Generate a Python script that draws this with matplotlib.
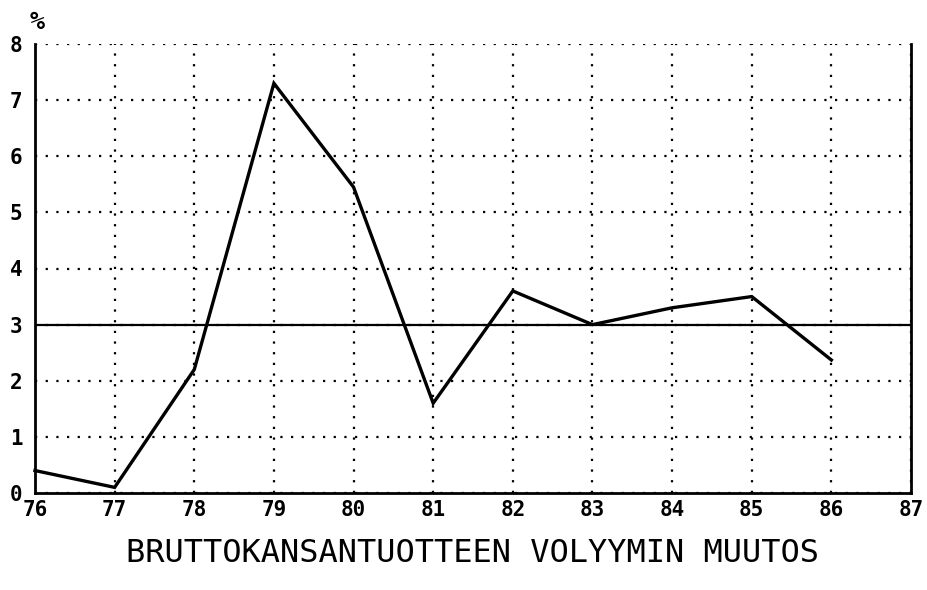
import matplotlib
matplotlib.use("Agg")
import matplotlib.pyplot as plt

years = [76, 77, 78, 79, 80, 81, 82, 83, 84, 85, 86]
growth = [0.4, 0.1, 2.2, 7.3, 5.45, 1.6, 3.6, 3.0, 3.3, 3.5, 2.37]
reference_level = 3.0
x_ticks = list(range(76, 88))
y_ticks = list(range(0, 9))

fig = plt.figure(figsize=(9.28, 5.9), dpi=100)
ax = fig.add_axes([35/928, 1-493/590, (911-35)/928, (493-44)/590])

font = "DejaVu Sans Mono"

ax.set_xlim(76, 87)
ax.set_ylim(0, 8)
ax.set_xticks(x_ticks)
ax.set_yticks(y_ticks)
ax.set_xticklabels([str(v) for v in x_ticks], fontfamily=font, fontweight="bold", fontsize=15)
ax.set_yticklabels([str(v) for v in y_ticks], fontfamily=font, fontweight="bold", fontsize=15)
ax.tick_params(axis="both", length=0)
ax.tick_params(axis="x", pad=5)
ax.tick_params(axis="y", pad=9)

ax.grid(True, color="black", linewidth=1.6, linestyle=(0, (1, 3.8)))
ax.set_axisbelow(True)

for s in ["left", "bottom", "right"]:
    ax.spines[s].set_linewidth(2.0)
ax.spines["top"].set_visible(False)

ax.axhline(reference_level, color="black", linewidth=1.6, zorder=3)
ax.plot(years, growth, color="black", linewidth=2.4, solid_joinstyle="miter", zorder=4, clip_on=False)

ax.set_xlabel("BRUTTOKANSANTUOTTEEN VOLYYMIN MUUTOS", fontfamily=font, fontsize=23, labelpad=13)
fig.text(37/928, 1-22/590, "%", fontfamily=font, fontweight="bold", fontsize=18, ha="center", va="center")

fig.savefig("out.png", dpi=100, facecolor="white")
